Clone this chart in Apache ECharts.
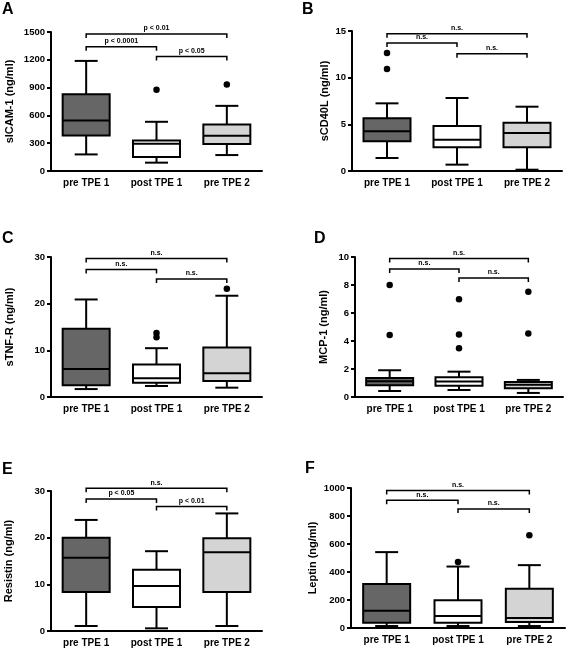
<!DOCTYPE html>
<html>
<head>
<meta charset="utf-8">
<script src="https://cdn.jsdelivr.net/npm/echarts@6/dist/echarts.min.js"></script>
<style>
html,body{margin:0;padding:0;background:#fff;}
#chart{width:567px;height:650px;}
</style>
</head>
<body>
<div id="chart"></div>
<script>
// ---- data ----
const categories = ['pre TPE 1', 'post TPE 1', 'pre TPE 2'];
const panelLetters = ['A', 'B', 'C', 'D', 'E', 'F'];
const axisNames = ['sICAM-1 (ng/ml)', 'sCD40L (ng/ml)', 'sTNF-R (ng/ml)', 'MCP-1 (ng/ml)', 'Resistin (ng/ml)', 'Leptin (ng/ml)'];
const axisMax = [1500, 15, 30, 10, 30, 1000];
const axisInterval = [300, 5, 10, 2, 10, 200];

// box stats per category: [min whisker, Q1, median, Q3, max whisker]
const sICAM1 = [[179, 384, 546, 829, 1188], [90, 151, 294, 330, 531], [172, 291, 380, 502, 703]];
const sCD40L = [[1.39, 3.18, 4.25, 5.64, 7.25], [0.68, 2.54, 3.36, 4.82, 7.82], [0.14, 2.54, 4.07, 5.18, 6.89]];
const sTNFR = [[1.7, 2.5, 6.0, 14.6, 20.9], [2.36, 3.07, 4.0, 6.94, 10.46], [2.0, 3.44, 5.09, 10.6, 21.7]];
const MCP1 = [[0.43, 0.84, 1.12, 1.36, 1.91], [0.50, 0.81, 1.10, 1.41, 1.81], [0.29, 0.62, 0.88, 1.07, 1.22]];
const Resistin = [[1.07, 8.36, 15.7, 20.0, 23.8], [0.57, 5.14, 9.64, 13.1, 17.1], [1.07, 8.36, 16.9, 19.9, 25.2]];
const Leptin = [[14, 38, 124, 315, 542], [14, 38, 86, 198, 439], [14, 43, 72, 281, 449]];

// outliers: [category index, value]
const sICAM1Outliers = [[1, 876], [2, 933]];
const sCD40LOutliers = [[0, 12.64], [0, 10.93]];
const sTNFROutliers = [[1, 12.8], [1, 13.7], [2, 23.2]];
const MCP1Outliers = [[0, 8.0], [0, 4.42], [1, 6.99], [1, 4.47], [1, 3.48], [2, 7.52], [2, 4.54]];
const ResistinOutliers = [];
const LeptinOutliers = [[1, 472], [2, 663]];

// significance brackets: pairs and heights, labels
const bracketPairs = [[0, 2], [0, 1], [1, 2]];
const sICAM1Brackets = [1479, 1342, 1235];
const sCD40LBrackets = [14.71, 13.71, 12.57];
const sTNFRBrackets = [29.7, 27.3, 25.3];
const MCP1Brackets = [9.9, 9.14, 8.5];
const ResistinBrackets = [30.6, 28.3, 26.7];
const LeptinBrackets = [983, 912, 850];
const sICAM1Labels = ['p < 0.01', 'p < 0.0001', 'p < 0.05'];
const sCD40LLabels = ['n.s.', 'n.s.', 'n.s.'];
const sTNFRLabels = ['n.s.', 'n.s.', 'n.s.'];
const MCP1Labels = ['n.s.', 'n.s.', 'n.s.'];
const ResistinLabels = ['n.s.', 'p < 0.05', 'p < 0.01'];
const LeptinLabels = ['n.s.', 'n.s.', 'n.s.'];

// ---- layout / style ----
const FONT = 'Liberation Sans, Arial, Helvetica, sans-serif';
const fills = ['#666666', '#ffffff', '#d4d4d4'];
const grids = [
  {left: 51, top: 32, width: 211, height: 139},
  {left: 352, top: 31, width: 210, height: 140},
  {left: 51, top: 257, width: 211, height: 140},
  {left: 355, top: 257, width: 208, height: 140},
  {left: 51, top: 491, width: 211, height: 140},
  {left: 351, top: 488, width: 214, height: 140}
];
const nameGaps = [36, 22, 36, 26, 37, 33];
const letterPos = [[2, 2], [302, 2], [2, 231], [314, 231], [2, 462], [305, 461]];

const stats = [sICAM1, sCD40L, sTNFR, MCP1, Resistin, Leptin];
const outliers = [sICAM1Outliers, sCD40LOutliers, sTNFROutliers, MCP1Outliers, ResistinOutliers, LeptinOutliers];
const brackets = [sICAM1Brackets, sCD40LBrackets, sTNFRBrackets, MCP1Brackets, ResistinBrackets, LeptinBrackets];
const bracketLabels = [sICAM1Labels, sCD40LLabels, sTNFRLabels, MCP1Labels, ResistinLabels, LeptinLabels];

const BOX_HALF = 23.5, CAP_HALF = 11.5, LW = 2;

function renderBox(params, api) {
  const c = api.value(0);
  const pMin = api.coord([c, api.value(1)]);
  const pQ1 = api.coord([c, api.value(2)]);
  const pMed = api.coord([c, api.value(3)]);
  const pQ3 = api.coord([c, api.value(4)]);
  const pMax = api.coord([c, api.value(5)]);
  const cx = pMed[0];
  const ls = {stroke: '#000', lineWidth: LW, fill: null};
  return {
    type: 'group',
    children: [
      {type: 'line', shape: {x1: cx, y1: pQ3[1], x2: cx, y2: pMax[1]}, style: ls},
      {type: 'line', shape: {x1: cx - CAP_HALF, y1: pMax[1], x2: cx + CAP_HALF, y2: pMax[1]}, style: ls},
      {type: 'line', shape: {x1: cx, y1: pQ1[1], x2: cx, y2: pMin[1]}, style: ls},
      {type: 'line', shape: {x1: cx - CAP_HALF, y1: pMin[1], x2: cx + CAP_HALF, y2: pMin[1]}, style: ls},
      {type: 'rect', shape: {x: cx - BOX_HALF, y: pQ3[1], width: BOX_HALF * 2, height: pQ1[1] - pQ3[1]},
        style: {fill: fills[c], stroke: '#000', lineWidth: LW}},
      {type: 'line', shape: {x1: cx - BOX_HALF, y1: pMed[1], x2: cx + BOX_HALF, y2: pMed[1]}, style: ls}
    ]
  };
}

function makeBracketRenderer(labels) {
  return function (params, api) {
    const a = api.coord([api.value(0), api.value(2)]);
    const b = api.coord([api.value(1), api.value(2)]);
    const t = 4;
    return {
      type: 'group',
      children: [
        {type: 'polyline', shape: {points: [[a[0], a[1] + t], [a[0], a[1]], [b[0], b[1]], [b[0], b[1] + t]]},
          style: {stroke: '#000', lineWidth: 1.5, fill: null}},
        {type: 'text', x: (a[0] + b[0]) / 2, y: a[1] - 2,
          style: {text: labels[params.dataIndex], fill: '#000', font: 'bold 7px ' + FONT,
            textAlign: 'center', textVerticalAlign: 'bottom'}}
      ]
    };
  };
}

const option = {
  animation: false,
  backgroundColor: '#fff',
  title: panelLetters.map((l, i) => ({
    text: l, left: letterPos[i][0], top: letterPos[i][1], padding: 0,
    textStyle: {fontFamily: FONT, fontWeight: 'bold', fontSize: 16, color: '#000'}
  })),
  grid: grids,
  xAxis: grids.map((g, i) => ({
    type: 'category', gridIndex: i, data: categories,
    axisLine: {lineStyle: {color: '#000', width: LW}},
    axisTick: {alignWithLabel: true, length: 5, lineStyle: {color: '#000', width: LW}},
    axisLabel: {color: '#000', fontFamily: FONT, fontWeight: 'bold', fontSize: 10, margin: 7, interval: 0},
    splitLine: {show: false}
  })),
  yAxis: grids.map((g, i) => ({
    type: 'value', gridIndex: i, min: 0, max: axisMax[i], interval: axisInterval[i],
    name: axisNames[i], nameLocation: 'middle', nameGap: nameGaps[i], nameRotate: 90,
    nameMoveOverlap: false,
    nameTextStyle: {color: '#000', fontFamily: FONT, fontWeight: 'bold', fontSize: 11},
    axisLine: {show: true, lineStyle: {color: '#000', width: LW}},
    axisTick: {show: true, length: 4, lineStyle: {color: '#000', width: LW}},
    axisLabel: {color: '#000', fontFamily: FONT, fontWeight: 'bold', fontSize: 9.5, margin: 6,
      formatter: v => String(v)},
    splitLine: {show: false}
  })),
  series: []
};

for (let i = 0; i < 6; i++) {
  option.series.push({
    type: 'custom', xAxisIndex: i, yAxisIndex: i, clip: false,
    renderItem: renderBox,
    encode: {x: 0, y: [1, 2, 3, 4, 5]},
    data: stats[i].map((s, c) => [c].concat(s)),
    z: 2
  });
  option.series.push({
    type: 'scatter', xAxisIndex: i, yAxisIndex: i,
    symbol: 'circle', symbolSize: 6.5,
    itemStyle: {color: '#000', opacity: 1},
    data: outliers[i],
    z: 3
  });
  option.series.push({
    type: 'custom', xAxisIndex: i, yAxisIndex: i, clip: false,
    renderItem: makeBracketRenderer(bracketLabels[i]),
    encode: {x: [0, 1], y: 2},
    data: bracketPairs.map((p, k) => [p[0], p[1], brackets[i][k]]),
    z: 4
  });
}

const chart = echarts.init(document.getElementById('chart'), null, {renderer: 'canvas'});
chart.setOption(option);
</script>
</body>
</html>
